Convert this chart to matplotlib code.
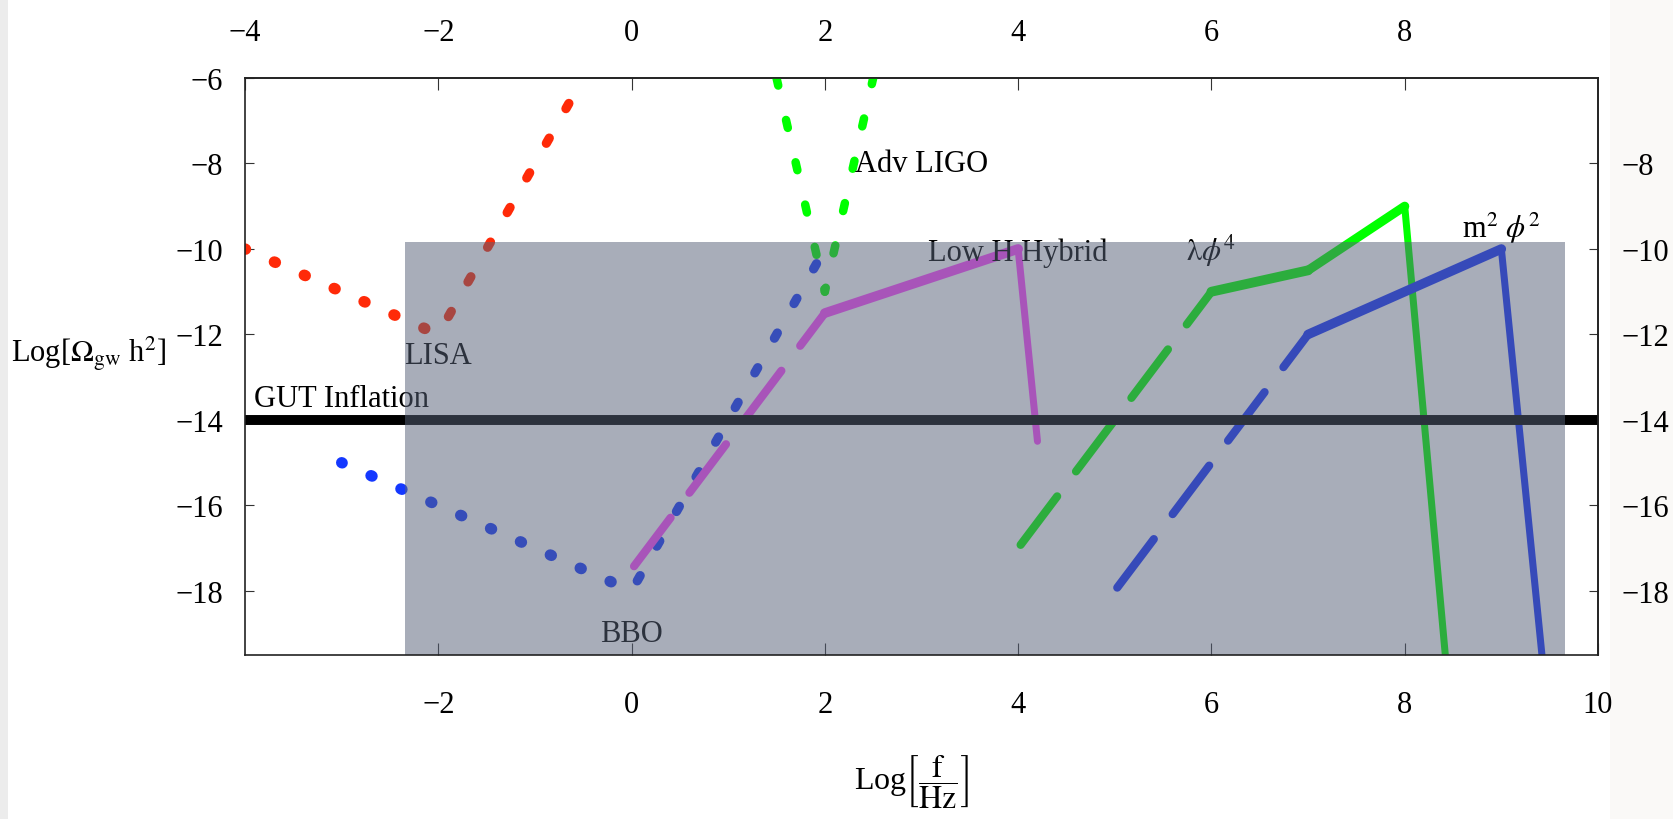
import numpy as np
import matplotlib
matplotlib.use("Agg")
import matplotlib.pyplot as plt
from matplotlib.patches import Rectangle

# ---------------- data ----------------
lisa_x = [-4.0, -2.0, -0.6]
lisa_y = [-10.0, -12.0, -6.4]
bbo_x = [-3.0, 0.0, 2.0]
bbo_y = [-15.0, -18.0, -10.0]
ligo_x = [1.45, 2.0, 2.55]
ligo_y = [-5.5, -11.0, -5.5]
hybrid_x = [0.0, 2.0, 4.0, 4.2]
hybrid_y = [-17.5, -11.5, -10.0, -14.5]
lam_x = [4.0, 6.0, 7.0, 8.0, 8.42]
lam_y = [-17.0, -11.0, -10.5, -9.0, -19.5]
m2_x = [5.0, 7.0, 9.0, 9.42]
m2_y = [-18.0, -12.0, -10.0, -19.5]
gut_x = [-4.0, 10.0]
gut_y = [-14.0, -14.0]
region_x = [-2.34, 9.66]
region_y = [-19.5, -9.84]

x_bottom_ticks = [-2, 0, 2, 4, 6, 8, 10]
x_top_ticks = [-4, -2, 0, 2, 4, 6, 8]
y_left_ticks = [-18, -16, -14, -12, -10, -8, -6]
y_right_ticks = [-18, -16, -14, -12, -10, -8]

labels = ["LISA", "BBO", "Adv LIGO", "Low H Hybrid", r"$\mathrm{\lambda}\phi^{4}$",
          r"m$^{2}$ $\phi^{2}$", "GUT Inflation"]
label_x = [-2.0, 0.0, 3.0, 4.0, 6.0, 9.0, -3.0]
label_y = [-12.67, -19.18, -8.17, -10.26, -10.24, -9.73, -13.68]

# ---------------- style ----------------
plt.rcParams['font.family'] = ['Liberation Serif', 'DejaVu Serif']
plt.rcParams['mathtext.fontset'] = 'stix'
plt.rcParams['lines.scale_dashes'] = False

W, H = 1673, 820
PX = 0.72          # points per pixel at 100 dpi
S = 1.42           # vertical stretch seen in the reference
W0 = 7.0           # base stroke width in px
WD = 8.3           # base dot width in px
DL = 12.0          # base dot length in px
P0 = 31.3          # base dot period in px
FS = 22

red = '#ff2a08'
green = '#00ff00'
blue_dot = '#1438ff'
blue = '#1432ff'
purple = '#ff48ff'

fig = plt.figure(figsize=(W / 100, H / 100), dpi=100)
fig.patch.set_facecolor('white')
fig.add_artist(Rectangle((1610 / W, 0), 1 - 1610 / W, 1, transform=fig.transFigure,
                         facecolor='#faf9f7', edgecolor='none', zorder=-10))
fig.add_artist(Rectangle((0, 0), 8 / W, 1, transform=fig.transFigure,
                         facecolor='#ececec', edgecolor='none', zorder=-10))

ax = fig.add_axes([245 / W, 1 - 656 / H, (1598 - 245) / W, (656 - 79) / H])
ax.set_xlim(-4, 10)
ax.set_ylim(-19.5, -6)


def fmt(v):
    return f"{v:g}".replace('-', '\u2212')


def seg_geom(xa, ya, xb, yb):
    p = ax.transData.transform([(xa, ya), (xb, yb)])
    dx, dy = p[1] - p[0]
    L = np.hypot(dx, dy)
    Lo = np.hypot(dx, dy / S)
    g = L / Lo
    return g, S / g


def draw(xs, ys, color, styles, phases=None, z=3):
    for i in range(len(xs) - 1):
        g, t = seg_geom(xs[i], ys[i], xs[i + 1], ys[i + 1])
        lw = W0 * t
        if styles[i] == 'dot':
            lw = WD * t
            on = max(DL * g - lw, 0.3)
            per = P0 * g
            d = (phases[i] if phases else 0.0) * per
            off = (on / 2 - d) % per
            ls = (off * PX, (on * PX, (per - on) * PX))
        elif styles[i] == 'dash':
            on = max(56.8 * g - lw, 0.3)
            per = 75.8 * g
            ls = (((per - lw / 2) % per) * PX, (on * PX, (per - on) * PX))
        else:
            ls = '-'
        ax.plot(xs[i:i + 2], ys[i:i + 2], color=color, lw=lw * PX, ls=ls,
                dash_capstyle='round', solid_capstyle='round', zorder=z)


draw(lisa_x, lisa_y, red, ['dot', 'dot'], [0.0, 0.59])
draw(bbo_x, bbo_y, blue_dot, ['dot', 'dot'], [0.0, 0.365])
draw(ligo_x, ligo_y, green, ['dot', 'dot'], [0.59, 0.0])
draw(hybrid_x, hybrid_y, purple, ['dash', 'solid', 'solid'])
draw(lam_x, lam_y, green, ['dash', 'solid', 'solid', 'solid'])
draw(m2_x, m2_y, blue, ['dash', 'solid', 'solid'])
g, t = seg_geom(gut_x[0], gut_y[0], gut_x[1], gut_y[1])
ax.plot(gut_x, gut_y, color='black', lw=W0 * t * PX, solid_capstyle='butt', zorder=3.5)

for s, x, y in zip(labels, label_x, label_y):
    ax.text(x, y, s, fontsize=FS, ha='center', va='baseline', color='black', zorder=3)

ax.add_patch(Rectangle((region_x[0], region_y[0]), region_x[1] - region_x[0],
                       region_y[1] - region_y[0], facecolor=(87 / 255, 97 / 255, 120 / 255),
                       alpha=0.516, edgecolor='none', zorder=4))

# ---------------- axes / ticks ----------------
for sp in ax.spines.values():
    sp.set_linewidth(1.2)
    sp.set_color('#222222')
    sp.set_zorder(6)

ax.set_xticks(x_bottom_ticks, [fmt(v) for v in x_bottom_ticks])
ax.set_yticks(y_left_ticks, [fmt(v) for v in y_left_ticks])
ax.tick_params(axis='x', direction='in', length=8.6, width=0.8, color='#333333',
               labelsize=FS, pad=24.9)
ax.tick_params(axis='y', direction='in', length=6.5, width=0.8, color='#333333',
               labelsize=FS, pad=15.8)

secx = ax.secondary_xaxis('top')
secx.set_xticks(x_top_ticks, [fmt(v) for v in x_top_ticks])
secx.tick_params(axis='x', direction='in', length=8.6, width=0.8, color='#333333',
                 labelsize=FS, pad=22.5)
secy = ax.secondary_yaxis('right')
secy.set_yticks(y_right_ticks, [fmt(v) for v in y_right_ticks])
secy.tick_params(axis='y', direction='in', length=6.5, width=0.8, color='#333333',
                 labelsize=FS, pad=17)
for sa in (secx, secy):
    for sp in sa.spines.values():
        sp.set_linewidth(1.2)
        sp.set_color('#222222')

fig.text(11 / W, 1 - 362 / H, r"Log[$\Omega_{\mathrm{gw}}$ h$^{2}$]", fontsize=FS,
         ha='left', va='baseline')
fig.text(912 / W, 1 - 782 / H, r"Log$\left[\dfrac{\mathrm{f}}{\mathrm{Hz}}\right]$",
         fontsize=FS + 1, ha='center', va='center')

fig.savefig("out.png", dpi=100)
